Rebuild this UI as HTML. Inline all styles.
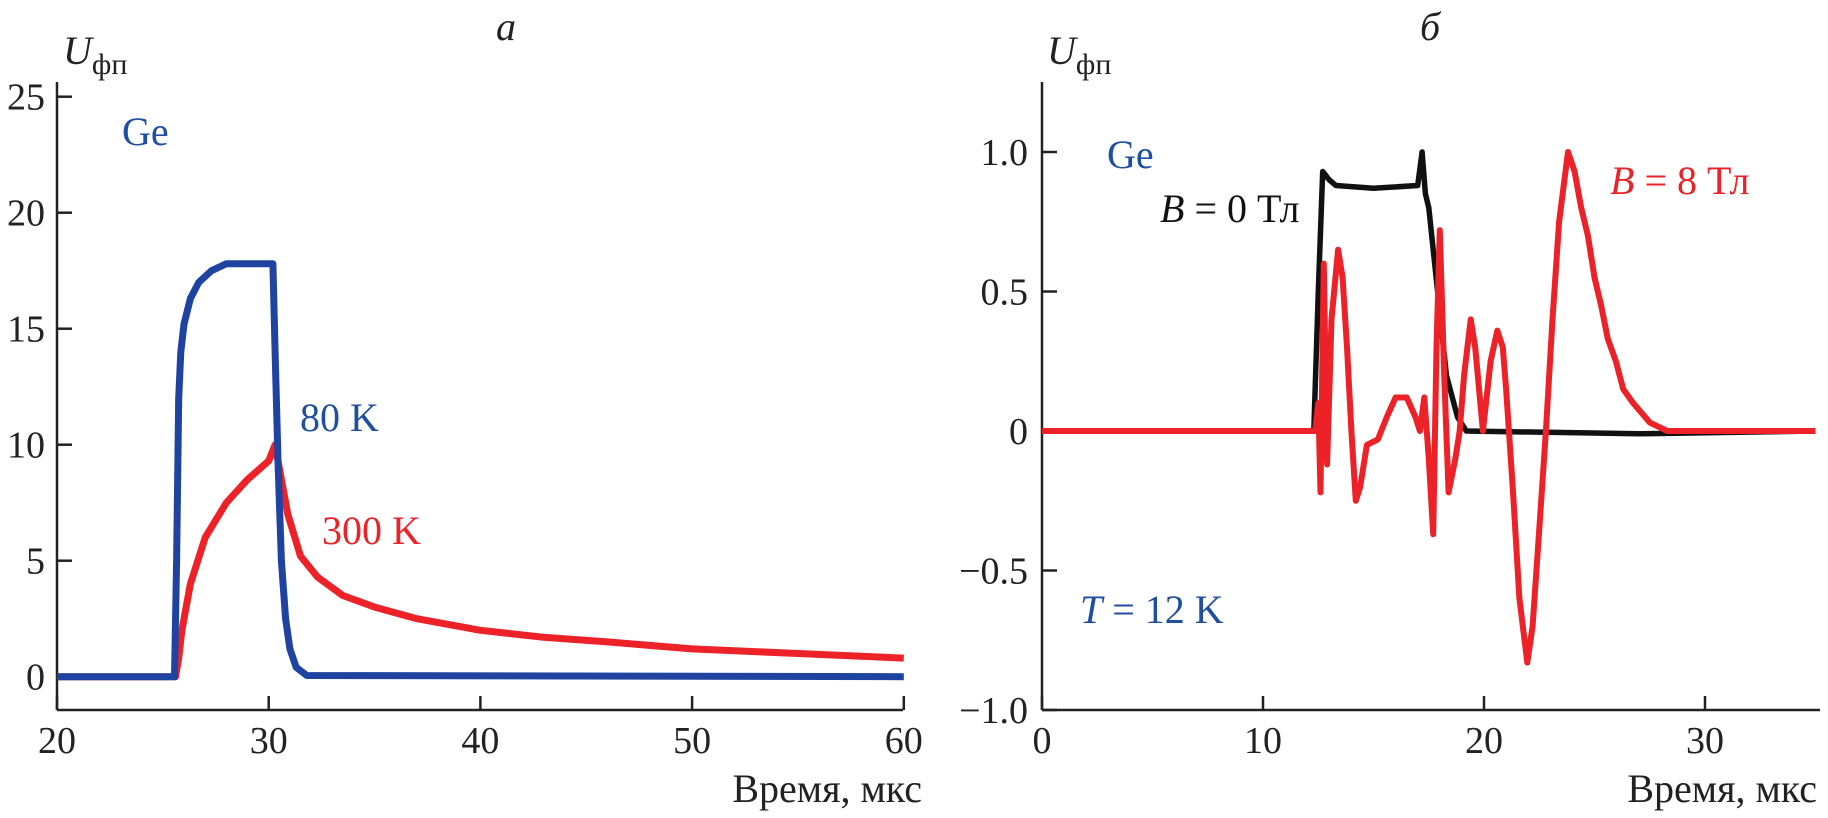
<!DOCTYPE html>
<html><head><meta charset="utf-8"><style>
html,body{margin:0;padding:0;background:#fff}
svg{display:block}
text{font-family:"Liberation Serif","DejaVu Serif",serif;}
</style></head><body>
<svg id="chart" width="1828" height="818" viewBox="0 0 1828 818" xmlns="http://www.w3.org/2000/svg">
<g id="panelA"></g>
<g id="panelB"></g>
</svg>
<script>
// Panel a data
const aXTicks = [20, 30, 40, 50, 60];
const aYTicks = [0, 5, 10, 15, 20, 25];
const aBlueT = [20, 25.55, 25.65, 25.75, 25.85, 26.0, 26.3, 26.7, 27.3, 28.0, 29.0, 30.2, 30.3, 30.45, 30.6, 30.8, 31.0, 31.3, 31.8, 60];
const aBlueV = [0, 0, 5, 12, 14, 15.2, 16.3, 17.0, 17.5, 17.8, 17.8, 17.8, 14, 9, 5, 2.5, 1.2, 0.4, 0.05, 0];
const aRedT = [20, 25.6, 25.75, 25.9, 26.3, 27.0, 28.0, 29.0, 30.0, 30.3, 30.6, 30.9, 31.5, 32.3, 33.5, 35, 37, 40, 43, 46, 50, 55, 60];
const aRedV = [0, 0, 0.8, 2, 4, 6, 7.5, 8.5, 9.3, 10, 8.5, 7, 5.2, 4.3, 3.5, 3, 2.5, 2, 1.7, 1.5, 1.2, 1.0, 0.8];
// Panel b data
const bXTicks = [0, 10, 20, 30];
const bYTicks = [-1.0, -0.5, 0, 0.5, 1.0];
const bYTickLabels = ["\u22121.0", "\u22120.5", "0", "0.5", "1.0"];
const bBlackT = [0, 12.3, 12.5, 12.7, 13.0, 13.3, 15, 17.0, 17.2, 17.35, 17.5, 17.9, 18.3, 18.8, 19.2, 27, 35];
const bBlackV = [0, 0, 0.5, 0.93, 0.9, 0.88, 0.87, 0.88, 1.0, 0.85, 0.8, 0.5, 0.2, 0.05, 0, -0.01, 0];
const bRedT = [0, 12.36, 12.5, 12.6, 12.75, 12.9, 13.1, 13.4, 13.6, 13.8, 14.0, 14.2, 14.4, 14.7, 15.2, 15.6, 16.0, 16.5, 16.9, 17.1, 17.3, 17.5, 17.7, 17.85, 18.0, 18.2, 18.4, 18.7, 18.9, 19.1, 19.4, 19.6, 19.95, 20.3, 20.6, 20.85, 21.0, 21.3, 21.6, 21.96, 22.2, 22.5, 22.8, 23.1, 23.4, 23.8, 24.1, 24.4, 24.7, 25.0, 25.3, 25.6, 25.97, 26.3, 26.75, 27.5, 28.3, 35];
const bRedV = [0, 0, 0.1, -0.22, 0.6, -0.12, 0.4, 0.65, 0.55, 0.3, 0, -0.25, -0.2, -0.05, -0.03, 0.05, 0.12, 0.12, 0.05, 0.0, 0.12, -0.1, -0.37, 0.3, 0.72, 0.2, -0.22, -0.1, 0.0, 0.2, 0.4, 0.3, 0.0, 0.25, 0.36, 0.3, 0.15, -0.2, -0.6, -0.83, -0.7, -0.35, 0.0, 0.4, 0.75, 1.0, 0.93, 0.8, 0.7, 0.55, 0.45, 0.33, 0.25, 0.15, 0.1, 0.03, 0, 0];

const NS = "http://www.w3.org/2000/svg";
function mk(parent, tag, attrs, txt) {
  const e = document.createElementNS(NS, tag);
  for (const k in attrs) e.setAttribute(k, attrs[k]);
  if (txt !== undefined) e.textContent = txt;
  parent.appendChild(e);
  return e;
}
function linePath(ts, vs, sx, sy) {
  return ts.map((t, i) => (i ? "L" : "M") + sx(t).toFixed(1) + "," + sy(vs[i]).toFixed(1)).join(" ");
}

// Panel a
(function () {
  const g = document.getElementById("panelA");
  const sx = t => 57 + (t - 20) * 21.17;
  const sy = v => 676.7 - v * 23.2;
  let e;
  e = mk(g, "line", {x1: 57, y1: 82, x2: 57, y2: 710, stroke: "#222", "stroke-width": 2.5});
  
  
  e = mk(g, "line", {x1: 57, y1: 710, x2: 903, y2: 710, stroke: "#222", "stroke-width": 2.5});
  
  
  aYTicks.forEach(v => {
    const t = mk(g, "line", {x1: 57, y1: sy(v), x2: 72, y2: sy(v), stroke: "#222", "stroke-width": 2.5});
    
    
    const l = mk(g, "text", {x: 45, y: sy(v) + 13, "font-size": 38, "text-anchor": "end", fill: "#222"}, String(v));
    
    
  });
  aXTicks.forEach(v => {
    const t = mk(g, "line", {x1: sx(v), y1: 710, x2: sx(v), y2: 696, stroke: "#222", "stroke-width": 2.5});
    
    
    const l = mk(g, "text", {x: sx(v), y: 753, "font-size": 38, "text-anchor": "middle", fill: "#222"}, String(v));
    
    
  });
  e = mk(g, "path", {d: linePath(aRedT, aRedV, sx, sy), fill: "none", stroke: "#ec2228", "stroke-width": 7, "stroke-linejoin": "round"});
  
  
  e = mk(g, "path", {d: linePath(aBlueT, aBlueV, sx, sy), fill: "none", stroke: "#1f43a0", "stroke-width": 7, "stroke-linejoin": "round"});
  
  
})();

// Panel b
(function () {
  const g = document.getElementById("panelB");
  const sx = t => 1042 + t * 22.1;
  const sy = v => 431 - v * 279;
  let e;
  e = mk(g, "line", {x1: 1042, y1: 82, x2: 1042, y2: 710, stroke: "#222", "stroke-width": 2.5});
  
  
  e = mk(g, "line", {x1: 1042, y1: 710, x2: 1820, y2: 710, stroke: "#222", "stroke-width": 2.5});
  
  
  bYTicks.forEach((v, i) => {
    const t = mk(g, "line", {x1: 1042, y1: sy(v), x2: 1057, y2: sy(v), stroke: "#222", "stroke-width": 2.5});
    
    
    const l = mk(g, "text", {x: 1028, y: sy(v) + 13, "font-size": 38, "text-anchor": "end", fill: "#222"}, bYTickLabels[i]);
    
    
  });
  bXTicks.forEach(v => {
    const t = mk(g, "line", {x1: sx(v), y1: 710, x2: sx(v), y2: 696, stroke: "#222", "stroke-width": 2.5});
    
    
    const l = mk(g, "text", {x: sx(v), y: 753, "font-size": 38, "text-anchor": "middle", fill: "#222"}, String(v));
    
    
  });
  e = mk(g, "path", {d: linePath(bBlackT, bBlackV, sx, sy), fill: "none", stroke: "#111", "stroke-width": 5.5, "stroke-linejoin": "round"});
  
  
  e = mk(g, "path", {d: linePath(bRedT, bRedV, sx, sy), fill: "none", stroke: "#ec2228", "stroke-width": 6, "stroke-linejoin": "round"});
  
  
})();
</script>
<svg width="1828" height="818" style="position:absolute;left:0;top:0" xmlns="http://www.w3.org/2000/svg">
  <text x="506" y="40" font-size="40" font-style="italic" text-anchor="middle" fill="#222">а</text>
  <text x="1430" y="40" font-size="40" font-style="italic" text-anchor="middle" fill="#222">б</text>
  <text x="63" y="64" font-size="40" fill="#222"><tspan font-style="italic">U</tspan><tspan font-size="30" dy="10">фп</tspan></text>
  <text x="1047" y="64" font-size="40" fill="#222"><tspan font-style="italic">U</tspan><tspan font-size="30" dy="10">фп</tspan></text>
  <text x="122" y="145" font-size="40" fill="#1f4fa0">Ge</text>
  <text x="300" y="431" font-size="40" fill="#1f4fa0">80 K</text>
  <text x="322" y="544" font-size="40" fill="#ec2228">300 K</text>
  <text x="922" y="802" font-size="40" text-anchor="end" fill="#222">Время, мкс</text>
  <text x="1107" y="168" font-size="40" fill="#1f4fa0">Ge</text>
  <text x="1160" y="222" font-size="40" fill="#111"><tspan font-style="italic">B</tspan> = 0 Тл</text>
  <text x="1610" y="194" font-size="40" fill="#ec2228"><tspan font-style="italic">B</tspan> = 8 Тл</text>
  <text x="1080" y="623" font-size="40" fill="#1f4fa0"><tspan font-style="italic">T</tspan> = 12 K</text>
  <text x="1817" y="802" font-size="40" text-anchor="end" fill="#222">Время, мкс</text>
</svg>
</body></html>
